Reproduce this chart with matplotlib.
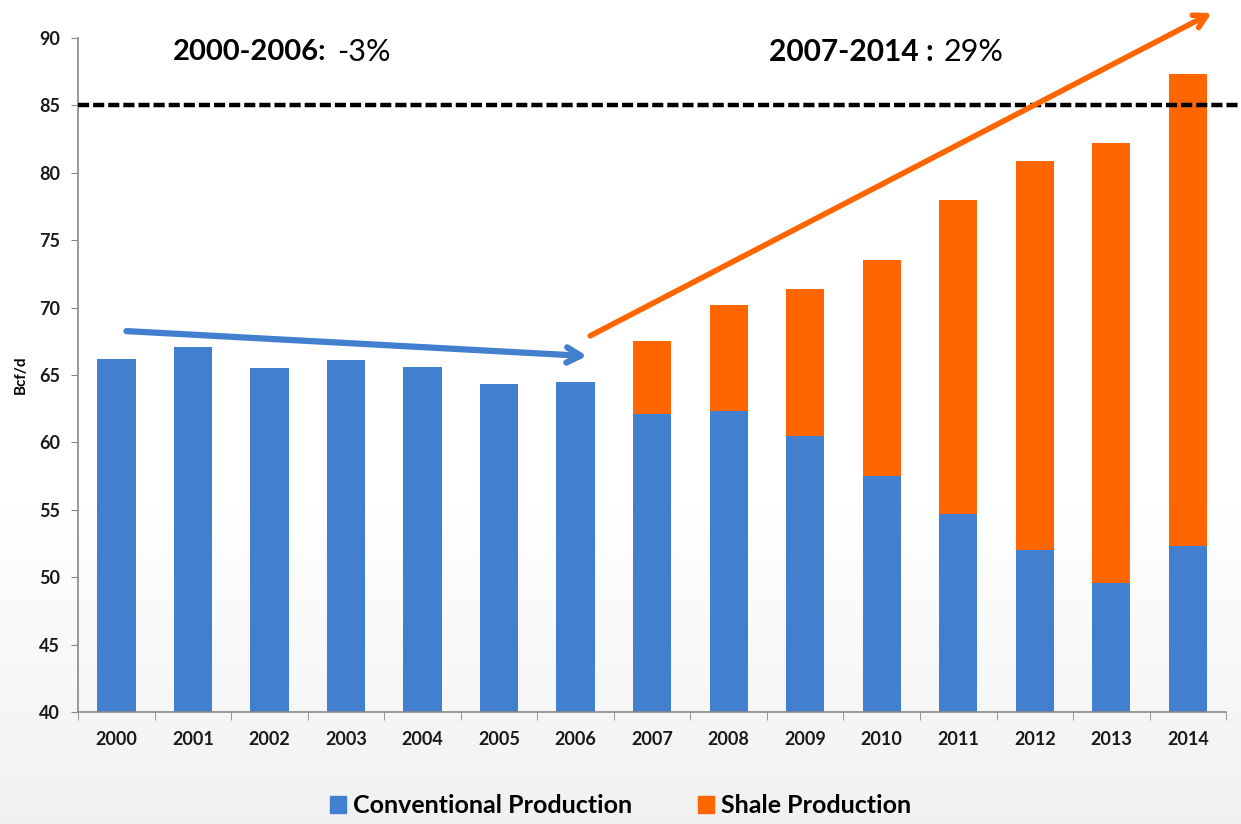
import numpy as np
import matplotlib.pyplot as plt
from matplotlib.patches import Patch

years = ['2000', '2001', '2002', '2003', '2004', '2005', '2006',
         '2007', '2008', '2009', '2010', '2011', '2012', '2013', '2014']
conventional = [66.2, 67.1, 65.5, 66.1, 65.6, 64.3, 64.5,
                62.1, 62.3, 60.5, 57.5, 54.7, 52.0, 49.6, 52.3]
total = [66.2, 67.1, 65.5, 66.1, 65.6, 64.3, 64.5,
         67.5, 70.2, 71.4, 73.5, 78.0, 80.9, 82.2, 87.3]
shale = [t - c for t, c in zip(total, conventional)]

target = 85
blue = '#4280CF'
orange = '#FF6600'

plt.rcParams['font.family'] = ['Lato', 'DejaVu Sans']

fig = plt.figure(figsize=(12.41, 8.24), dpi=100)

# light grey fade at the bottom of the slide
bg = fig.add_axes([0, 0, 1, 1], zorder=-10)
h = np.linspace(0, 1, 400)
shade = np.clip((0.38 - h) / 0.38, 0, 1)
grey = 1 - 0.055 * shade
img = np.dstack([grey, grey, grey]).reshape(-1, 1, 3)
bg.imshow(img, aspect='auto', extent=[0, 1, 0, 1], origin='lower')
bg.set_xlim(0, 1)
bg.set_ylim(0, 1)
bg.axis('off')

ax = fig.add_axes([0.063, 0.136, 0.925, 0.818])
ax.patch.set_alpha(0)
x = np.arange(len(years))
ax.bar(x, conventional, width=0.5, color=blue, label='Conventional Production')
ax.bar(x, shale, width=0.5, bottom=conventional, color=orange, label='Shale Production')

ax.set_ylim(40, 90)
ax.set_xlim(-0.5, len(years) - 0.5)
ax.set_yticks(range(40, 91, 5))
ax.set_xticks(x)
ax.set_xticklabels(years)
ax.set_xticks(np.arange(-0.5, len(years), 1), minor=True)
ax.tick_params(axis='x', which='major', length=0, pad=14)
ax.tick_params(axis='x', which='minor', length=6, color='#888888', direction='out')
ax.tick_params(axis='y', length=5, color='#888888', pad=8)
for lab in ax.get_xticklabels() + ax.get_yticklabels():
    lab.set_fontweight('bold')
    lab.set_fontsize(13)
    lab.set_color('#1a1a1a')
for s in ['top', 'right']:
    ax.spines[s].set_visible(False)
for s in ['left', 'bottom']:
    ax.spines[s].set_color('#888888')
    ax.spines[s].set_linewidth(1.2)

ax.set_ylabel('Bcf/d', fontsize=11, fontweight='bold', labelpad=8)

# 85 Bcf/d reference
ax.plot([-0.5, 14.72], [target, target], color='black', lw=3.2,
        dashes=(2.5, 0.9), clip_on=False, zorder=3)

# trend arrows
ax.annotate('', xy=(6.15, 66.4), xytext=(0.13, 68.25),
            arrowprops=dict(arrowstyle='->,head_length=1.0,head_width=0.55',
                            color=blue, lw=4.5, shrinkA=0, shrinkB=0))
ax.annotate('', xy=(14.31, 91.85), xytext=(6.19, 67.9), annotation_clip=False,
            arrowprops=dict(arrowstyle='->,head_length=0.9,head_width=0.5',
                            color=orange, lw=4, shrinkA=0, shrinkB=0))

t1 = fig.text(0.139, 0.937, '2000-2006:', fontsize=21, fontweight='bold', va='center')
ax.annotate('-3%', xy=(1, 0.5), xycoords=t1, xytext=(8, 0), textcoords='offset points',
            fontsize=22, va='center')
t2 = fig.text(0.620, 0.937, '2007-2014 :', fontsize=21.5, fontweight='bold', va='center')
ax.annotate('29%', xy=(1, 0.5), xycoords=t2, xytext=(7, 0), textcoords='offset points',
            fontsize=22, va='center')

fig.legend(handles=[Patch(color=blue, label='Conventional Production'),
                    Patch(color=orange, label='Shale Production')],
           loc='center', bbox_to_anchor=(0.5, 0.022), ncol=2, frameon=False,
           prop=dict(size=18, weight='bold'), handlelength=0.65, handleheight=0.65,
           handletextpad=0.3, columnspacing=2.6)

fig.savefig('out.png', dpi=100)
